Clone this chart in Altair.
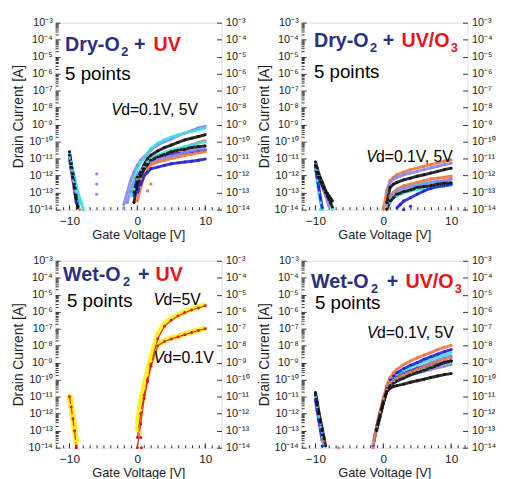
import json
import math
import altair as alt
import pandas as pd

N = None
# gate-voltage grids (V)
ON_X = [-2, -1.5, -1, -0.5, 0, 0.5, 1, 1.5, 2, 3, 4, 5, 6, 7, 8, 9, 10]
OFF_X = [-10, -9.75, -9.5, -9.25, -9, -8.75, -8.5, -8.25, -8, -7.75, -7.5]
NOFF = [N] * 11

# y values are log10(drain current [A])
TICK_EXP = [-3, -4, -5, -6, -7, -8, -9, -10, -11, -12, -13, -14]
X_LABELS = [-10, 0, 10]

COL = {
    "black": "#151515", "blue": "#2424d6", "purple": "#8a8aee",
    "cyan": "#40e0e0", "orange": "#f07a45", "yellow": "#fff020", "red": "#d81b1b",
}
WIDTH = {"yellow": 5.5, "red": 1.2}
NAVY = "#2b2f80"
TRED = "#e8141c"

# (color, on-branch values at ON_X, off-branch values at OFF_X)
DRY_UV = [
    ("purple", [-13.7, -13.0, -12.3, -11.8, -11.4, -11.1, -10.9, -10.7, -10.5, -10.2, -10.0, -9.85, -9.65, -9.5, -9.35, -9.2, -9.1],
     [-10.8, -11.4, -12.0, -12.5, -13.0, -13.5, N, N, N, N, N]),
    ("cyan", [N, N, -12.8, -12.3, -11.6, -11.2, -11.0, -10.7, -10.4, -10.1, -9.9, -9.74, -9.6, -9.5, -9.4, -9.3, -9.2],
     [-10.7, -11.2, -11.7, -12.1, -12.6, -13.0, -13.3, -13.6, -13.9, N, N]),
    ("orange", [N, N, N, N, -13.0, -12.2, -11.5, -11.3, -11.1, -10.9, -10.8, -10.7, -10.5, -10.35, -10.2, -10.05, -9.95], NOFF),
    ("blue", [N, N, N, -13.2, -12.5, -12.0, -11.6, -11.3, -11.1, -10.95, -10.85, -10.75, -10.7, -10.65, -10.6, -10.55, -10.5],
     [-11.0, -11.6, -12.2, -12.9, -13.6, N, N, N, N, N, N]),
    ("purple", [N, -13.6, -12.9, -12.4, -12.0, -11.7, -11.5, -11.35, -11.2, -11.05, -10.95, -10.85, -10.75, -10.65, -10.55, -10.45, -10.4],
     [-11.0, -11.7, -12.3, -12.9, -13.4, N, N, N, N, N, N]),
    ("cyan", [N, N, -13.2, -12.8, -12.2, -11.8, -11.5, -11.2, -11.0, -10.8, -10.65, -10.5, -10.4, -10.3, -10.2, -10.1, -10.0],
     [-10.9, -11.4, -11.9, -12.4, -12.9, -13.3, -13.7, N, N, N, N]),
    ("orange", [N, N, N, N, -13.5, -12.7, -12.0, -11.6, -11.35, -11.2, -11.1, -11.0, -10.9, -10.8, -10.75, -10.65, -10.6], NOFF),
    ("blue", [N, N, N, N, -13.0, -12.5, -12.0, -11.8, -11.6, -11.5, -11.4, -11.3, -11.25, -11.2, -11.15, -11.1, -11.03], NOFF),
    ("black", [N, N, N, -13.0, -12.1, -11.8, -11.36, -11.0, -10.8, -10.55, -10.35, -10.2, -10.05, -9.9, -9.8, -9.7, -9.6],
     [-10.6, -11.3, -11.9, -12.5, -13.3, -13.8, N, N, N, N, N]),
    ("black", [N, N, N, -13.6, -12.5, -12.0, -11.6, -11.35, -11.1, -10.9, -10.75, -10.6, -10.5, -10.45, -10.35, -10.3, -10.25],
     [-10.8, -11.5, -12.1, -12.7, -13.4, -13.9, N, N, N, N, N]),
]
DRY_UV_STRAY = [(-6, -11.9, "purple"), (-6, -12.5, "purple"), (-6, -13.1, "purple"), (-2, -13.9, "purple"),
                (1.5, -12.9, "orange"), (2, -12.5, "orange"), (-8.5, -14.0, "orange"), (-8, -14.0, "cyan")]

DRY_UVO3 = [
    ("cyan", [N, N, N, N, N, -13.7, -13.2, -13.0, -12.9, -12.7, -12.6, -12.5, -12.45, -12.4, -12.35, -12.3, -12.24],
     [-11.6, -12.3, -13.0, -13.6, -14.0, N, N, N, N, N, N]),
    ("cyan", [N, N, N, N, N, N, -13.6, -13.3, -13.2, -13.0, -12.9, -12.8, -12.75, -12.7, -12.65, -12.6, -12.55], NOFF),
    ("blue", [N, N, N, N, N, N, N, N, -13.9, -13.5, -13.3, -13.1, -12.9, -12.75, -12.65, -12.6, -12.53],
     [-11.5, -12.1, -12.7, -13.3, -13.9, N, N, N, N, N, N]),
    ("orange", [N, N, N, N, -14.0, -12.9, -12.3, -12.1, -11.95, -11.8, -11.65, -11.56, -11.45, -11.35, -11.25, -11.15, -11.08], NOFF),
    ("orange", [N, N, N, N, N, -13.6, -13.2, -13.0, -12.8, -12.6, -12.5, -12.4, -12.3, -12.2, -12.15, -12.1, -12.04], NOFF),
    ("purple", [N, N, N, N, N, -13.0, -12.4, -12.2, -12.1, -11.95, -11.85, -11.75, -11.65, -11.55, -11.45, -11.35, -11.28],
     [-11.3, -11.7, -12.0, -12.3, -12.6, -12.9, -13.2, -13.5, -13.8, N, N]),
    ("purple", [N, N, N, N, N, -13.8, -13.3, -13.1, -12.9, -12.75, -12.65, -12.6, -12.5, -12.4, -12.35, -12.3, -12.2], NOFF),
    ("black", [N, N, N, N, N, -13.6, -12.7, -12.5, -12.4, -12.25, -12.15, -12.04, -11.95, -11.85, -11.75, -11.65, -11.56],
     [-11.2, -11.55, -11.9, -12.15, -12.4, -12.65, -12.9, -13.05, -13.2, -13.35, -13.5]),
    ("black", [N, N, N, N, N, -14.0, -13.5, -13.3, -13.1, -12.95, -12.85, -12.7, -12.65, -12.6, -12.5, -12.45, -12.43],
     [-11.4, -11.8, -12.1, -12.35, -12.6, -12.8, -13.0, -13.2, -13.4, -13.6, -13.9]),
]
DRY_UVO3_STRAY = [(-7.5, -14.0, "cyan"), (-9.25, -14.0, "cyan"), (3, -14.0, "blue"), (2.5, -13.7, "blue"),
                  (4, -13.8, "blue")]

WET_UV = [
    ("yellow", [N, N, N, N, -12.6, -11.3, -10.3, -9.5, -8.7, -7.35, -6.7, -6.4, -6.2, -6.0, -5.85, -5.72, -5.6],
     [-10.9, -11.5, -12.1, -12.8, -13.6, N, N, N, N, N, N]),
    ("yellow", [N, N, N, N, -13.0, -11.8, -10.5, -9.7, -8.9, -7.94, -7.7, -7.56, -7.45, -7.3, -7.18, -7.08, -6.98],
     [-11.0, -11.6, -12.2, -12.9, -13.8, N, N, N, N, N, N]),
    ("red", [N, N, N, N, -13.4, -12.0, -10.9, -10.0, -9.1, -7.6, -6.85, -6.5, -6.25, -6.05, -5.9, -5.78, -5.65],
     [-11.0, -11.6, -12.3, -13.0, -13.9, N, N, N, N, N, N]),
    ("red", [N, N, N, N, -14.0, -12.6, -11.1, -10.1, -9.2, -8.0, -7.75, -7.6, -7.48, -7.35, -7.22, -7.1, -7.0], NOFF),
]
WET_UV_STRAY = [(0.5, -13.4, "red"), (0.6, -14.0, "red"), (0, -12.9, "yellow"), (0.5, -13.1, "yellow"), (-9, -14.0, "red")]

WET_UVO3 = [
    ("purple", [N, -13.9, -12.9, -12.1, -11.3, -10.6, -10.2, -10.0, -9.8, -9.6, -9.45, -9.3, -9.15, -9.0, -8.85, -8.7, -8.6],
     [-10.9, -11.5, -12.1, -12.6, -13.1, -13.6, N, N, N, N, N]),
    ("purple", [N, N, -13.0, -12.2, -11.35, -10.7, -10.35, -10.2, -10.05, -9.85, -9.7, -9.6, -9.5, -9.4, -9.3, -9.2, -9.1], NOFF),
    ("cyan", [N, -13.7, -12.8, -12.0, -11.2, -10.5, -10.1, -9.9, -9.7, -9.45, -9.25, -9.1, -8.95, -8.8, -8.65, -8.55, -8.42],
     [-11.0, -11.6, -12.2, -12.8, -13.4, -13.9, N, N, N, N, N]),
    ("cyan", [N, N, -12.9, -12.1, -11.3, -10.6, -10.25, -10.1, -9.95, -9.75, -9.6, -9.45, -9.35, -9.2, -9.1, -9.0, -8.95], NOFF),
    ("blue", [N, -13.9, -12.8, -12.0, -11.2, -10.5, -10.0, -9.8, -9.6, -9.35, -9.15, -9.0, -8.8, -8.65, -8.5, -8.35, -8.23],
     [-11.2, -11.8, -12.4, -13.0, -13.6, N, N, N, N, N, N]),
    ("blue", [N, N, -12.9, -12.1, -11.3, -10.6, -10.2, -10.0, -9.85, -9.65, -9.5, -9.35, -9.25, -9.1, -9.0, -8.95, -8.9], NOFF),
    ("orange", [N, -13.8, -12.8, -11.9, -11.1, -10.35, -9.87, -9.6, -9.39, -9.1, -8.9, -8.71, -8.55, -8.4, -8.23, -8.1, -7.98], NOFF),
    ("orange", [N, N, -12.9, -12.1, -11.3, -10.6, -10.2, -10.05, -9.9, -9.7, -9.55, -9.4, -9.25, -9.1, -8.95, -8.8, -8.7], NOFF),
    ("black", [N, N, -12.9, -12.1, -11.3, -10.7, -10.35, -10.2, -10.07, -9.9, -9.72, -9.58, -9.45, -9.3, -9.15, -9.0, -8.9],
     [-10.75, -11.3, -11.9, -12.4, -12.9, -13.4, -13.9, N, N, N, N]),
    ("black", [N, N, -13.0, -12.2, -11.4, -10.7, -10.5, -10.4, -10.35, -10.26, -10.15, -10.06, -9.97, -9.87, -9.78, -9.7, -9.64],
     [-10.9, -11.5, -12.0, -12.5, -13.0, -13.5, N, N, N, N, N]),
]
WET_UVO3_STRAY = [(-6.6, -14.0, "orange"), (-9, -13.6, "orange"), (-1.5, -14.0, "orange"), (-9, -13.9, "blue")]

FONT = "Liberation Sans"
SUP = {"-": "\u207b", "0": "\u2070", "1": "\u00b9", "2": "\u00b2", "3": "\u00b3", "4": "\u2074",
       "5": "\u2075", "6": "\u2076", "7": "\u2077", "8": "\u2078", "9": "\u2079"}
Y_LABELS = ["10" + "".join(SUP[c] for c in str(e)) for e in TICK_EXP]
LABEL_EXPR = json.dumps(Y_LABELS, ensure_ascii=False) + "[-3 - datum.value]"
Y_MINOR = [d + math.log10(k) for d in range(-14, -3) for k in range(2, 10)]
X_MINOR = list(range(-12, 13))

W, H = 169, 190
XS = alt.Scale(domain=[-12.1, 12.4], nice=False, zero=False)
YS = alt.Scale(domain=[-14, -3], nice=False, zero=False)


def table(curves, branch):
    rows = []
    for i, (c, on, off) in enumerate(curves):
        xs, vals = (ON_X, on) if branch == "on" else (OFF_X, off)
        for x, v in zip(xs, vals):
            if v is not None:
                rows.append({"x": x, "y": v, "c": COL[c], "w": WIDTH.get(c, 3),
                             "seg": f"{branch}{i:02d}"})
    return pd.DataFrame(rows)


def txt(s, x, y, size, color="black", weight="normal", style="normal"):
    return alt.Chart(pd.DataFrame({"t": [s]})).mark_text(
        align="left", baseline="alphabetic", font=FONT, fontSize=size, color=color,
        fontWeight=weight, fontStyle=style,
    ).encode(x=alt.value(x), y=alt.value(y), text="t:N")


def dummy():
    return alt.Chart(pd.DataFrame({"x": [0], "y": [-8]})).mark_point(opacity=0)


def tick_axis(orient, offset, size, values):
    return alt.Axis(orient=orient, offset=offset, tickSize=size, values=values, labels=False,
                    domain=False, title=None, grid=False, tickColor="#333", tickWidth=1)


def panel(curves, strays, texts):
    on_df = table(curves, "on")
    off_df = table(curves, "off")
    sdf = pd.DataFrame([{"x": x, "y": y, "c": COL[c]} for x, y, c in strays])
    xq = alt.X("x:Q", scale=XS, axis=None)
    yq = alt.Y("y:Q", scale=YS, axis=None)
    col = alt.Color("c:N", scale=None)
    sw = alt.StrokeWidth("w:Q", scale=None)
    lines_on = alt.Chart(on_df).mark_line(opacity=0.9).encode(x=xq, y=yq, color=col, detail="seg:N",
                                                              strokeWidth=sw)
    lines_off = alt.Chart(off_df).mark_line(opacity=0.9).encode(x=xq, y=yq, color=col, detail="seg:N",
                                                                strokeWidth=sw)
    pts_on = alt.Chart(on_df).mark_point(filled=True, size=9, opacity=1).encode(x=xq, y=yq, color=col)
    pts_off = alt.Chart(off_df).mark_point(filled=True, size=9, opacity=1).encode(x=xq, y=yq, color=col)
    st = alt.Chart(sdf).mark_point(filled=True, size=10, opacity=1).encode(x=xq, y=yq, color=col)
    main = alt.layer(lines_on, lines_off, pts_on, pts_off, st, *texts)

    axes = dummy().encode(
        x=alt.X("x:Q", scale=XS, axis=alt.Axis(
            orient="bottom", values=X_LABELS, title="Gate Voltage [V]", ticks=False, domain=False,
            grid=False, labelPadding=6, titlePadding=2, labelFontSize=12, titleFontSize=13,
            labelFont=FONT, titleFont=FONT, titleFontWeight="normal", labelColor="#222",
            titleColor="#222")),
        y=alt.Y("y:Q", scale=YS, axis=alt.Axis(
            orient="left", values=TICK_EXP, labelExpr=LABEL_EXPR, labelOverlap=False,
            title="Drain Current [A]", ticks=False, domain=False, grid=False, labelPadding=3,
            titlePadding=3, labelFontSize=11, titleFontSize=14, labelFont=FONT, titleFont=FONT,
            titleFontWeight="normal", labelColor="#222", titleColor="#222")))
    tick_a = dummy().encode(
        x=alt.X("x:Q", scale=XS, axis=tick_axis("bottom", -3, 3, X_MINOR)),
        y=alt.Y("y:Q", scale=YS, axis=tick_axis("left", -5, 5, TICK_EXP)))
    tick_b = dummy().encode(
        x=alt.X("x:Q", scale=XS, axis=tick_axis("bottom", -5, 5, X_LABELS)),
        y=alt.Y("y:Q", scale=YS, axis=tick_axis("left", -3, 3, Y_MINOR)))
    right = dummy().encode(
        x=alt.X("x:Q", scale=XS, axis=None),
        y=alt.Y("y:Q", scale=YS, axis=alt.Axis(orient="right", values=TICK_EXP, labelExpr=LABEL_EXPR,
                                              labelOverlap=False, tickSize=5, offset=-5, tickColor="#333",
                                              domain=False, labelPadding=4, title=None, grid=False,
                                              labelFontSize=11, labelFont=FONT, labelColor="#222")))
    return alt.layer(main, axes, tick_a, tick_b, right).resolve_scale(
        x="independent", y="independent").properties(width=W, height=H)


def heading(first, second, sub_second, x, y, plus_x, second_x):
    parts = [txt(first, x, y, 20, NAVY, "bold"),
             txt("2", x + (61 if first.startswith("W") else 57), y + 5, 13, NAVY, "bold"),
             txt("+", plus_x, y, 20, NAVY, "bold"),
             txt(second, second_x, y, 20, TRED, "bold")]
    if sub_second:
        parts.append(txt("3", second_x + 50, y + 5, 13, TRED, "bold"))
    return parts


def vd(label, x, y):
    return [txt("V", x, y, 16, "black", "normal", "italic"), txt(label, x + 10, y, 16)]


p1 = panel(DRY_UV, DRY_UV_STRAY,
           heading("Dry-O", "UV", False, 10, 29, 80, 100) + [txt("5 points", 10, 58, 19)] + vd("d=0.1V, 5V", 57, 94))
p2 = panel(DRY_UVO3, DRY_UVO3_STRAY,
           heading("Dry-O", "UV/O", True, 13, 25, 83, 102) + [txt("5 points", 13, 56, 19)] + vd("d=0.1V, 5V", 66, 142))
p3 = panel(WET_UV, WET_UV_STRAY,
           heading("Wet-O", "UV", False, 8, 21, 84, 102) + [txt("5 points", 12, 47, 19)]
           + vd("d=5V", 100, 45) + vd("d=0.1V", 100, 104))
p4 = panel(WET_UVO3, WET_UVO3_STRAY,
           heading("Wet-O", "UV/O", True, 10, 28, 87, 106) + [txt("5 points", 14, 49, 19)] + vd("d=0.1V, 5V", 67, 79))

chart = alt.vconcat(
    alt.hconcat(p1, p2, spacing=5),
    alt.hconcat(p3, p4, spacing=5),
    spacing=12,
).properties(padding={"left": 2, "top": 4, "right": 0, "bottom": 0}).configure_view(
    stroke="black", strokeWidth=1.5).configure(font=FONT)

chart.save("out.html", embed_options={"renderer": "svg", "actions": False})
